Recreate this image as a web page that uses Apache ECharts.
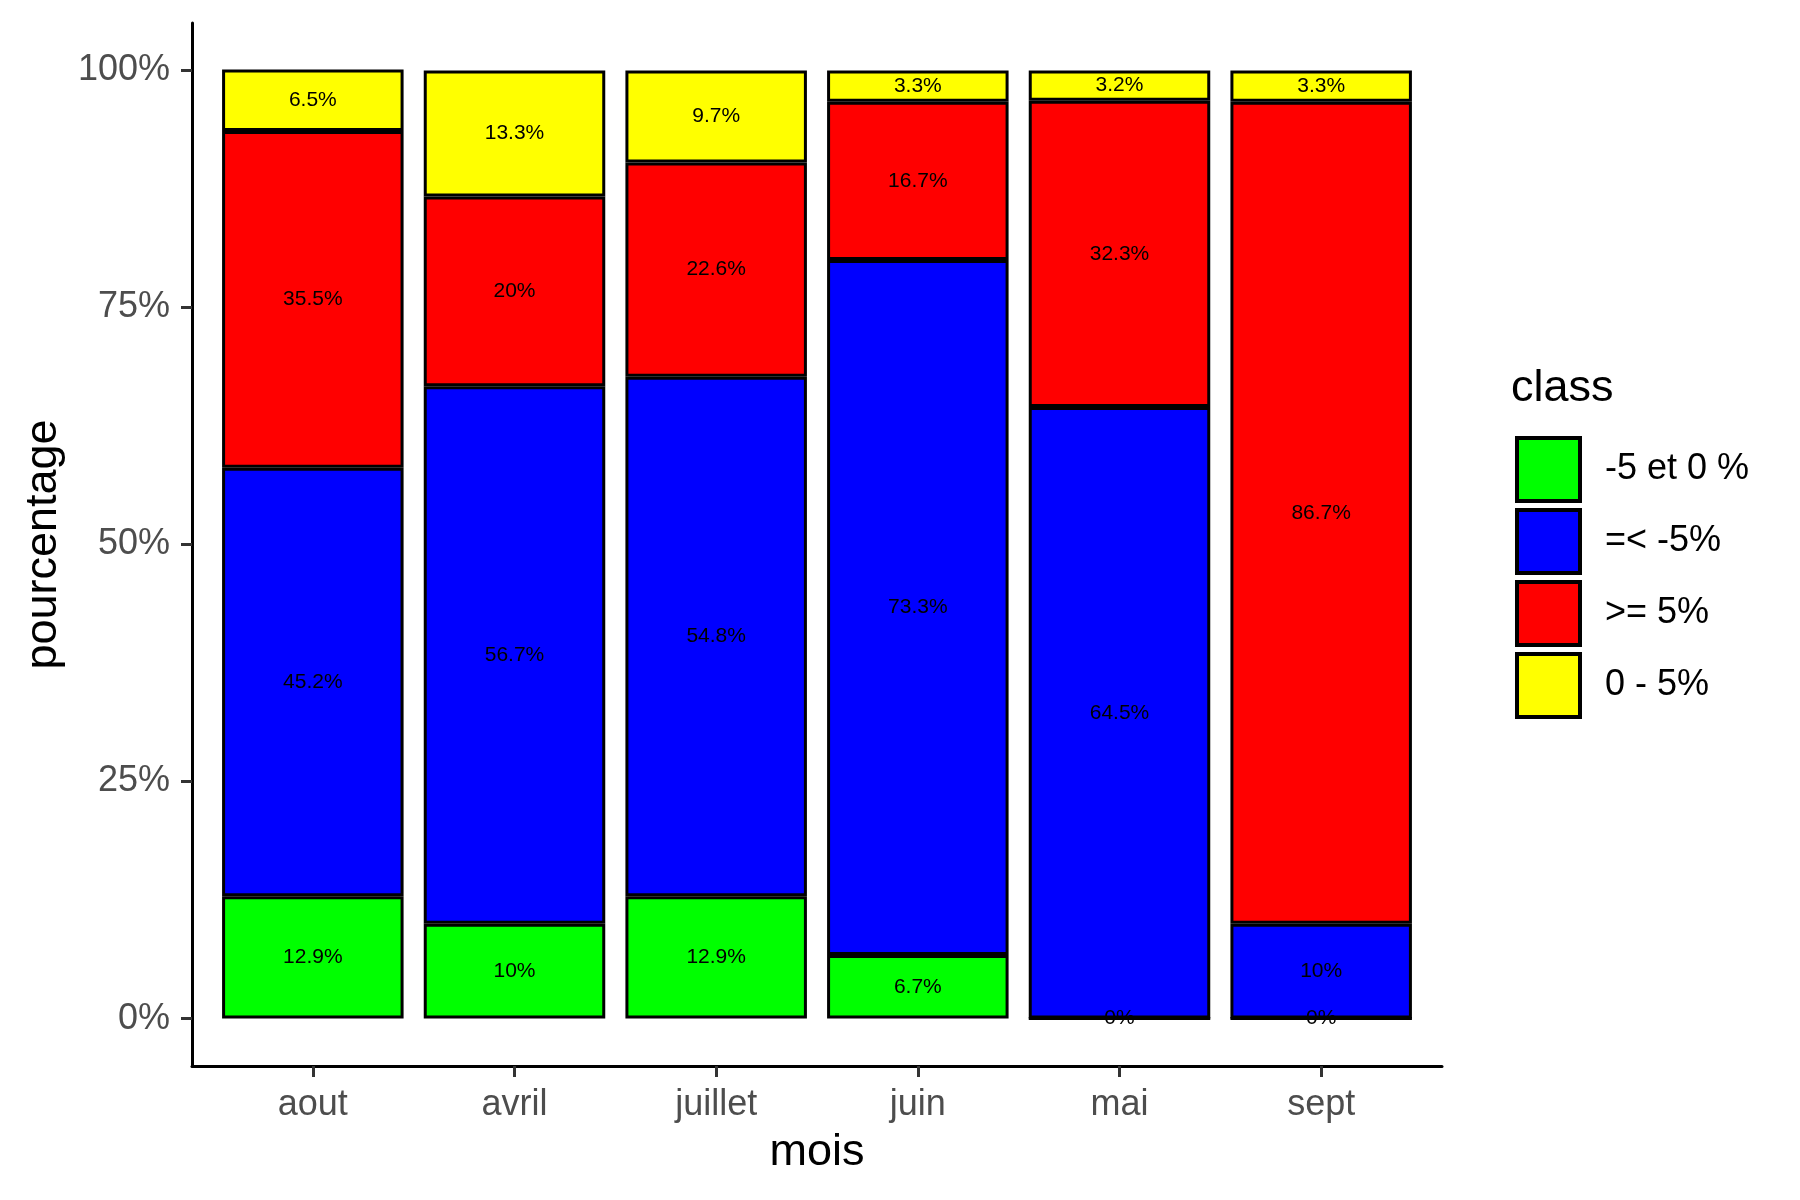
<!DOCTYPE html>
<html>
<head>
<meta charset="utf-8">
<script src="https://cdn.jsdelivr.net/npm/echarts@6/dist/echarts.min.js"></script>
<style>html,body{margin:0;padding:0;background:#fff}#c{width:1800px;height:1200px}</style>
</head>
<body>
<div id="c"></div>
<script>
const months = ['aout', 'avril', 'juillet', 'juin', 'mai', 'sept'];
const classNames = ['-5 et 0 %', '=< -5%', '>= 5%', '0 - 5%'];
const classColors = ['#00FF00', '#0000FF', '#FF0000', '#FFFF00'];
const valsGreen  = [12.9, 10, 12.9, 6.7, 0, 0];
const valsBlue   = [45.2, 56.7, 54.8, 73.3, 64.5, 10];
const valsRed    = [35.5, 20, 22.6, 16.7, 32.3, 86.7];
const valsYellow = [6.5, 13.3, 9.7, 3.3, 3.2, 3.3];
const yTicks = [0, 25, 50, 75, 100];

const seriesVals = [valsGreen, valsBlue, valsRed, valsYellow];
const FONT = '"Liberation Sans", Arial, Helvetica, sans-serif';

const chart = echarts.init(document.getElementById('c'), null, {renderer: 'canvas'});
const series = seriesVals.map((vals, si) => ({
  name: classNames[si],
  type: 'bar',
  stack: 'total',
  xAxisIndex: 1,
  yAxisIndex: 1,
  barWidth: '90%',
  data: vals,
  itemStyle: {color: classColors[si], borderColor: '#000', borderWidth: 3},
  label: {
    show: true,
    position: 'inside',
    color: '#000',
    textBorderWidth: 0,
    fontFamily: FONT,
    fontSize: 21,
    formatter: p => p.value + '%'
  },
  emphasis: {disabled: true}
}));

chart.setOption({
  animation: false,
  backgroundColor: '#fff',
  title: {
    text: 'class',
    left: 1511,
    top: 366,
    padding: 0,
    textStyle: {fontFamily: FONT, fontSize: 45, fontWeight: 'normal', color: '#000'}
  },
  legend: {
    orient: 'vertical',
    left: 1515,
    top: 436,
    padding: 0,
    itemWidth: 63,
    itemHeight: 63,
    itemGap: 5,
    icon: 'rect',
    itemStyle: {borderColor: '#000', borderWidth: 4},
    textStyle: {fontFamily: FONT, fontSize: 36, color: '#000', padding: [0, 0, 0, 20]},
    data: classNames
  },
  grid: [
    {left: 192, right: 358, top: 23, bottom: 134, containLabel: false},
    {left: 212, right: 378, top: 23, bottom: 134, containLabel: false}
  ],
  xAxis: [
    {
      type: 'value', gridIndex: 0, min: 0, max: 1,
      name: 'mois', nameLocation: 'middle', nameGap: 64,
      nameTextStyle: {fontFamily: FONT, fontSize: 45, color: '#000'},
      axisLine: {show: true, onZero: false, lineStyle: {color: '#000', width: 3}},
      axisTick: {show: false}, axisLabel: {show: false}, splitLine: {show: false}
    },
    {
      type: 'category', gridIndex: 1, data: months,
      axisLine: {show: false, onZero: false},
      axisTick: {show: true, alignWithLabel: true, length: 11, lineStyle: {color: '#333', width: 3}},
      axisLabel: {show: true, margin: 21, fontFamily: FONT, fontSize: 36, color: '#4D4D4D'},
      splitLine: {show: false}
    }
  ],
  yAxis: [
    {
      type: 'value', gridIndex: 0, min: -5, max: 105,
      name: 'pourcentage', nameLocation: 'middle', nameGap: 126,
      nameTextStyle: {fontFamily: FONT, fontSize: 45, color: '#000'},
      axisLine: {show: true, onZero: false, lineStyle: {color: '#000', width: 3}},
      axisTick: {show: true, length: 11, customValues: yTicks, lineStyle: {color: '#333', width: 3}},
      axisLabel: {
        show: true, margin: 22, customValues: yTicks,
        fontFamily: FONT, fontSize: 36, color: '#4D4D4D',
        formatter: v => v + '%'
      },
      splitLine: {show: false}
    },
    {
      type: 'value', gridIndex: 1, min: -5, max: 105, show: false,
      axisLine: {onZero: false},
      splitLine: {show: false}
    }
  ],
  series: series
});
</script>
</body>
</html>
